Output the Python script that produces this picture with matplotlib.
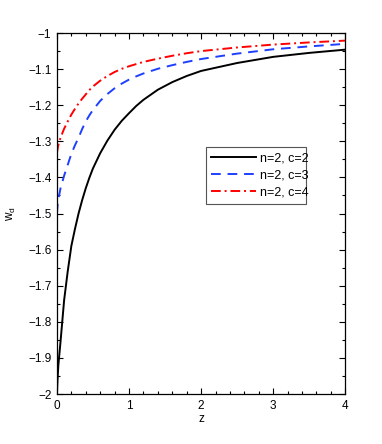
import matplotlib
matplotlib.use('Agg')
import matplotlib.pyplot as plt
from matplotlib.ticker import MultipleLocator

# values
z = [0, 0.01, 0.02, 0.05, 0.1, 0.15, 0.2, 0.25, 0.3, 0.35, 0.4, 0.45, 0.5, 0.6,
     0.7, 0.8, 0.9, 1.0, 1.1, 1.2, 1.4, 1.6, 1.8, 2.0, 2.5, 3.0, 3.5, 4.0]
w_c2 = [-2.0, -1.955, -1.92, -1.855, -1.74, -1.66, -1.59, -1.543, -1.50, -1.463,
        -1.43, -1.401, -1.375, -1.333, -1.298, -1.268, -1.243, -1.222, -1.202,
        -1.185, -1.157, -1.136, -1.119, -1.105, -1.083, -1.066, -1.055, -1.046]
w_c3 = [-1.5, -1.475, -1.46, -1.43, -1.395, -1.365, -1.335, -1.311, -1.29, -1.266,
        -1.245, -1.228, -1.213, -1.188, -1.169, -1.153, -1.140, -1.129, -1.120,
        -1.112, -1.099, -1.089, -1.080, -1.072, -1.057, -1.045, -1.037, -1.030]
w_c4 = [-1.333, -1.32, -1.31, -1.29, -1.265, -1.245, -1.226, -1.210, -1.195, -1.182,
        -1.17, -1.158, -1.148, -1.132, -1.119, -1.108, -1.099, -1.092, -1.086,
        -1.080, -1.071, -1.063, -1.056, -1.050, -1.040, -1.032, -1.026, -1.021]
labels = ['n=2, c=2', 'n=2, c=3', 'n=2, c=4']
yticklabels = ['\u22122', '\u22121.9', '\u22121.8', '\u22121.7', '\u22121.6',
               '\u22121.5', '\u22121.4', '\u22121.3', '\u22121.2', '\u22121.1',
               '\u22121']

plt.rcParams['font.family'] = ['Liberation Sans', 'DejaVu Sans']
plt.rcParams['font.size'] = 8.5

fig = plt.figure(figsize=(3.82, 4.44), dpi=100)
ax = fig.add_axes([0.149, 0.1126, 0.755, 0.813])

ax.plot(z, w_c2, color='black', lw=1.4, label=labels[0])
ax.plot(z, w_c3, color='#1f3fff', lw=1.4, ls=(0, (5, 3.5)), label=labels[1])
ax.plot(z, w_c4, color='#ff0000', lw=1.4, ls=(0, (5, 2, 1, 2)), label=labels[2])

ax.set_xlim(0, 4)
ax.set_ylim(-2, -1)
ax.xaxis.set_major_locator(MultipleLocator(1))
ax.xaxis.set_minor_locator(MultipleLocator(0.2))
ax.set_yticks([-2 + 0.1 * i for i in range(11)])
ax.set_yticklabels(yticklabels)
ax.yaxis.set_minor_locator(MultipleLocator(0.05))
ax.tick_params(which='both', direction='in', top=True, right=True, width=0.8)
ax.tick_params(which='major', length=4, pad=4)
ax.tick_params(which='minor', length=2)
for s in ax.spines.values():
    s.set_linewidth(0.9)

ax.set_xlabel('z', labelpad=1)
ax.set_ylabel('w$_\\mathregular{d}$', labelpad=7)

leg = ax.legend(loc='lower left', bbox_to_anchor=(0.516, 0.526, 0.347, 0.155),
                mode='expand', handlelength=3.6, handletextpad=0.3,
                borderaxespad=0, fancybox=False, framealpha=1,
                edgecolor='#555555', borderpad=0.45, labelspacing=0.4,
                fontsize=9)
leg.get_frame().set_linewidth(0.8)

fig.savefig('out.png', dpi=100)
